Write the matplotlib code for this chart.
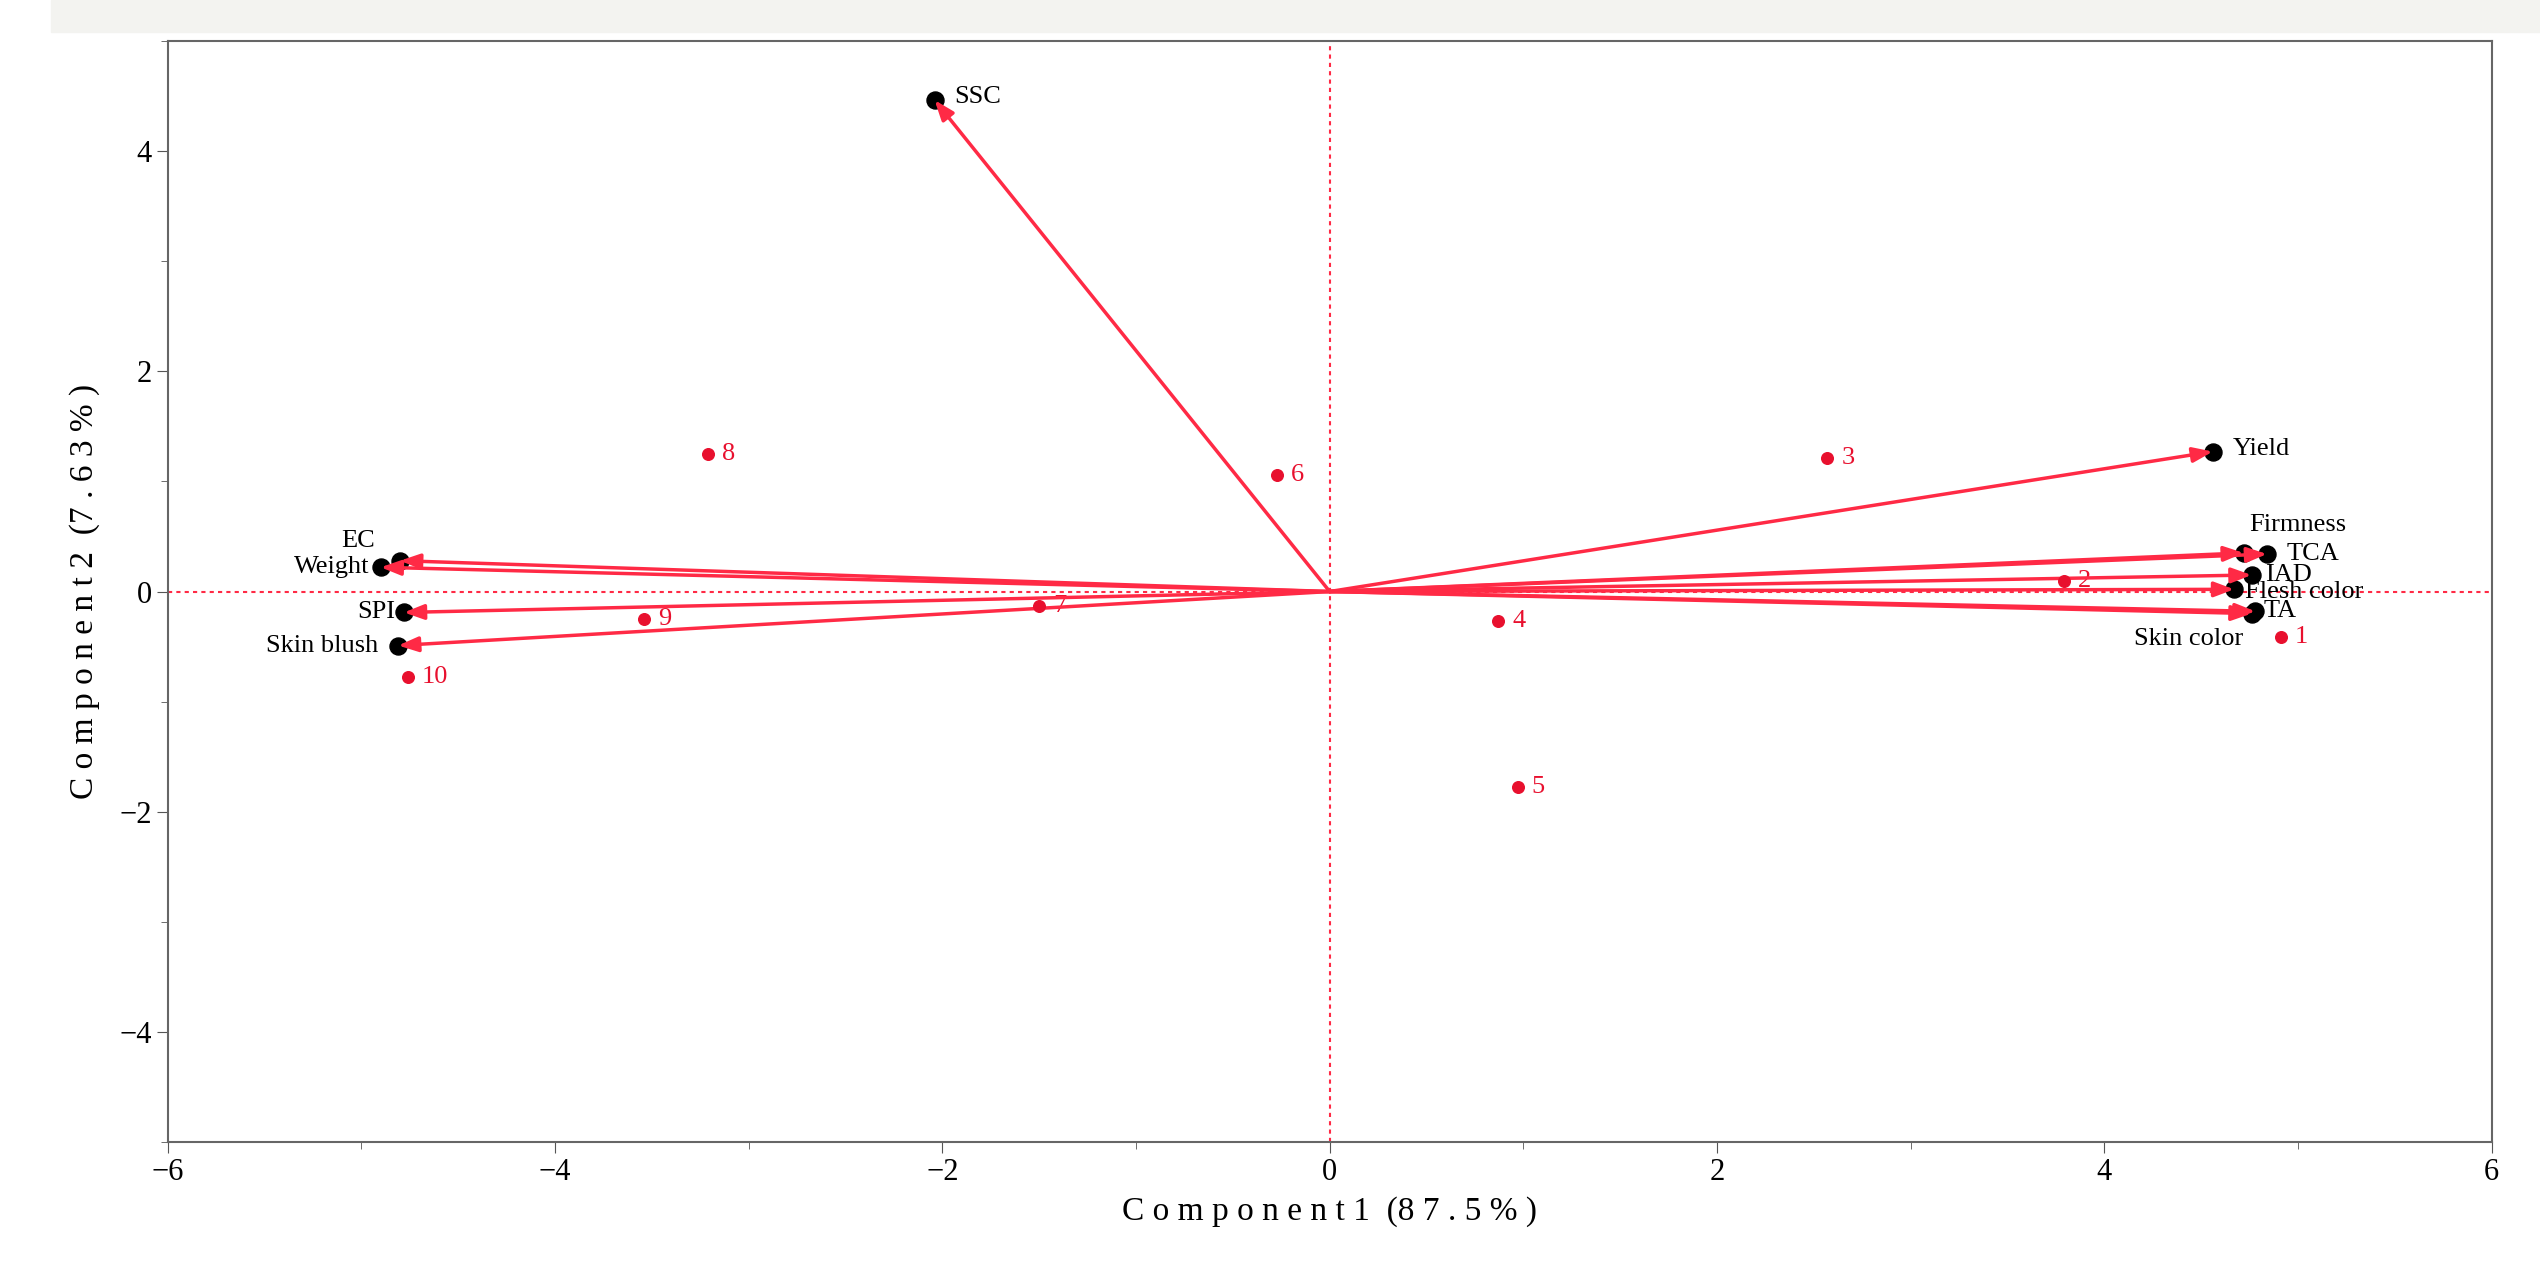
import matplotlib.pyplot as plt

var_names = ["SSC", "Yield", "Firmness", "TCA", "IAD", "Flesh color", "TA", "Skin color",
             "EC", "Weight", "SPI", "Skin blush"]
var_x = [-2.04, 4.56, 4.72, 4.84, 4.76, 4.67, 4.78, 4.76, -4.80, -4.90, -4.78, -4.81]
var_y = [4.46, 1.27, 0.35, 0.34, 0.15, 0.02, -0.18, -0.20, 0.28, 0.22, -0.19, -0.49]
# label offsets (points) and alignment
var_off = [(14, 2, 'left'), (14, 2, 'left'), (4, 20, 'left'), (14, 0, 'left'), (10, 0, 'left'),
           (8, -2, 'left'), (6, 0, 'left'), (-6, -18, 'right'), (-18, 14, 'right'),
           (-8, 0, 'right'), (-6, 0, 'right'), (-14, 0, 'right')]

obs_names = ["1", "2", "3", "4", "5", "6", "7", "8", "9", "10"]
obs_x = [4.91, 3.79, 2.57, 0.87, 0.97, -0.27, -1.50, -3.21, -3.54, -4.76]
obs_y = [-0.41, 0.10, 1.21, -0.27, -1.77, 1.06, -0.13, 1.25, -0.25, -0.78]

red = '#ff2a45'
plt.rcParams['font.family'] = ['Liberation Serif', 'DejaVu Serif']

fig = plt.figure(figsize=(25.4, 12.68), dpi=100)
fig.patches.append(plt.Rectangle((0.02, 0.975), 0.98, 0.025, transform=fig.transFigure,
                                 color='#f3f3f0', zorder=0))
ax = fig.add_axes([0.066, 0.099, 0.915, 0.869])

ax.axhline(0, color=red, ls=(0, (2, 2)), lw=1.5, zorder=1)
ax.axvline(0, color=red, ls=(0, (2, 2)), lw=1.5, zorder=1)

for name, x, y, (dx, dy, ha) in zip(var_names, var_x, var_y, var_off):
    ax.scatter(x, y, s=150, color='black', zorder=3)
    ax.annotate('', xy=(x, y), xytext=(0, 0),
                arrowprops=dict(arrowstyle='-|>,head_length=1.2,head_width=0.45',
                                color=red, lw=2.5, shrinkA=0, shrinkB=0), zorder=4)
    ax.annotate(name, (x, y), xytext=(dx, dy), textcoords='offset points',
                ha=ha, va='center', fontsize=19)

ax.scatter(obs_x, obs_y, s=70, color='#e8102e', zorder=5)
for name, x, y in zip(obs_names, obs_x, obs_y):
    ax.annotate(name, (x, y), xytext=(10, 0), textcoords='offset points',
                ha='left', va='center', fontsize=19, color='#e8102e')

ax.set_xlim(-6, 6)
ax.set_ylim(-5, 5)
ax.set_xticks([-6, -4, -2, 0, 2, 4, 6])
ax.set_yticks([-4, -2, 0, 2, 4])
ax.set_xticks(range(-6, 7), minor=True)
ax.set_yticks(range(-5, 6), minor=True)
ax.tick_params(labelsize=22, direction='out', length=8, color='#555555')
ax.tick_params(which='minor', direction='out', length=5, color='#555555')
for s in ax.spines.values():
    s.set_color('#666666')
    s.set_linewidth(1.5)
ax.set_xlabel('C o m p o n e n t 1  (8 7 . 5 % )', fontsize=24, labelpad=6)
ax.set_ylabel('C o m p o n e n t 2  (7 . 6 3 % )', fontsize=24, labelpad=14)

fig.savefig('out.png', dpi=100)
